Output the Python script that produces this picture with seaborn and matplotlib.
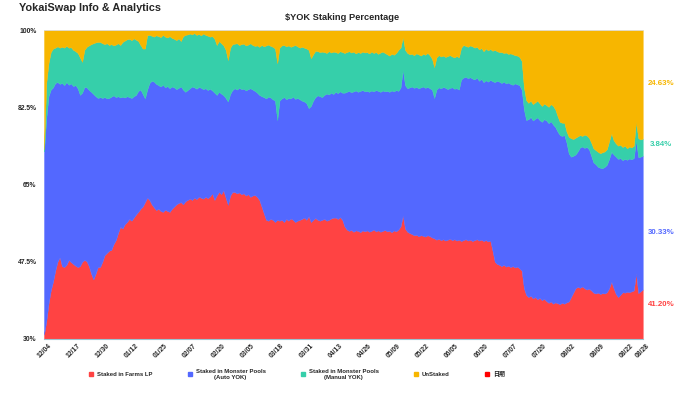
import pandas as pd
import matplotlib
matplotlib.use('Agg')
import matplotlib.pyplot as plt
from matplotlib.lines import Line2D
import seaborn as sns

# Доля (%) кожної категорії по днях
farms_lp = [
    31.0, 34.0, 38.0, 41.0, 43.0, 45.5, 47.5, 48.5,
    46.5, 46.3, 46.8, 47.9, 47.4, 47.0, 46.6, 46.3, 46.5, 47.5, 47.9, 47.6, 46.5, 44.8, 43.5, 44.8, 46.3,
    46.3, 47.5, 49.0, 49.5, 50.0, 50.2, 51.5, 52.4, 54.0, 55.4,
    55.0, 56.0, 56.5, 57.2, 56.8, 57.5, 58.2, 58.8, 59.5, 60.0,
    61.0, 62.0, 61.5, 60.5, 59.8, 59.2, 59.5, 59.0, 58.8, 59.3,
    59.0, 58.8, 59.5, 60.0, 60.5, 60.8, 61.0, 60.5, 61.2, 61.5,
    61.8, 61.5, 62.0, 61.7, 62.2, 62.0, 61.8, 62.2, 61.9, 62.3,
    63.0, 61.5, 62.5, 63.3, 62.8, 63.7, 62.0, 60.4, 62.5, 63.3,
    63.3, 63.0, 63.2, 62.8, 63.0, 62.5, 62.8, 62.2, 62.5, 62.6,
    62.2, 61.5, 60.0, 58.5, 57.0, 56.8, 57.2, 57.0, 56.5, 57.0,
    56.8, 57.0, 56.5, 57.2, 56.8, 57.3, 57.0, 56.5, 56.8, 57.0,
    57.2, 57.5, 57.0, 57.8, 56.5, 57.0, 57.4, 57.0, 56.8, 57.0,
    57.2, 56.8, 57.0, 57.3, 57.5, 57.5, 57.2, 57.6, 57.0,
    55.5, 54.8, 54.5, 54.7, 54.3, 54.6, 54.5, 54.2, 54.6, 54.4,
    54.6, 54.3, 54.5, 54.8, 54.4, 54.6, 54.3, 54.5, 54.7, 54.4,
    54.5, 54.2, 54.6, 54.4, 54.8, 55.5, 58.0, 55.0, 54.3, 54.0,
    53.8, 53.5, 53.6, 53.3, 53.5, 53.4, 53.2, 53.5, 53.3, 53.0,
    52.8, 52.5, 52.7, 52.4, 52.6, 52.3, 52.5, 52.7, 52.4, 52.6,
    52.3, 52.5, 52.2, 52.4, 52.6, 52.3, 52.5, 52.2, 52.4, 52.6,
    52.3, 52.5, 52.2, 52.4, 52.1, 52.3, 50.0, 47.5, 47.0, 46.8,
    46.5, 46.8, 46.4, 46.6, 46.3, 46.5, 46.2, 46.4, 46.0, 45.5,
    41.5, 40.0, 39.5, 39.8, 39.2, 39.5, 39.0, 39.3, 38.8, 39.1,
    38.6, 38.2, 38.5, 38.0, 38.3, 38.1, 37.9, 38.2, 38.0, 38.3,
    38.5, 39.5, 40.5, 41.5, 41.8, 41.6, 41.9, 41.5, 41.2, 41.4,
    41.0, 40.5, 40.3, 40.5, 40.2, 40.4, 40.3, 40.6, 41.5, 43.0,
    41.5, 40.2, 39.5, 40.0, 40.6, 40.5, 40.7, 40.6, 40.8, 41.0,
    44.9, 40.4, 40.8, 41.20,
]
auto_yok = [
    41.5, 46.0, 47.0, 45.5, 44.0, 42.5, 40.7, 39.3,
    41.5, 41.2, 41.4, 39.7, 40.5, 40.3, 40.9, 40.5, 38.8, 38.3, 39.2, 39.4, 39.9, 41.2, 42.0, 40.2, 38.3,
    38.5, 37.1, 35.8, 35.0, 34.6, 34.7, 33.7, 32.4, 31.0, 29.3,
    29.9, 28.7, 28.5, 27.6, 27.8, 27.5, 27.1, 27.4, 27.0, 25.5,
    23.5, 24.5, 26.5, 28.0, 28.5, 28.6, 28.0, 28.2, 28.8, 27.7,
    28.3, 28.0, 27.7, 27.0, 26.1, 26.1, 26.2, 26.0, 24.8, 24.9,
    25.0, 25.7, 25.0, 25.0, 24.9, 24.9, 24.8, 24.6, 24.5, 24.4,
    23.3, 24.3, 22.8, 22.7, 22.8, 21.5, 22.6, 23.4, 23.0, 23.1,
    23.5, 23.5, 23.7, 23.8, 23.7, 23.8, 23.8, 24.6, 24.0, 23.6,
    23.6, 23.8, 25.0, 26.3, 27.5, 28.1, 27.5, 27.3, 27.5, 22.6,
    27.2, 27.5, 28.3, 27.1, 27.8, 27.2, 27.9, 27.9, 27.8, 27.3,
    26.8, 26.3, 26.4, 24.5, 26.3, 27.0, 27.4, 28.2, 28.2, 27.8,
    28.1, 28.8, 28.4, 28.5, 28.0, 28.5, 28.5, 28.5, 28.8,
    30.3, 31.2, 31.7, 31.2, 31.8, 31.7, 31.5, 32.0, 31.8, 31.7,
    31.6, 31.7, 31.8, 31.3, 32.0, 31.6, 31.7, 31.8, 31.4, 31.8,
    31.5, 32.1, 31.5, 32.0, 31.4, 31.5, 33.0, 32.5, 32.5, 33.0,
    33.4, 33.4, 33.5, 33.5, 33.5, 33.8, 33.7, 33.6, 33.5, 33.5,
    31.8, 34.0, 34.3, 34.4, 34.5, 34.6, 34.1, 34.2, 34.6, 34.1,
    34.5, 34.0, 36.6, 36.8, 36.8, 36.8, 36.8, 36.8, 36.4, 36.6,
    36.2, 36.4, 36.0, 36.2, 36.2, 36.4, 38.4, 40.7, 41.5, 41.5,
    41.5, 41.5, 41.5, 41.5, 41.5, 41.1, 41.7, 41.3, 41.5, 41.0,
    40.5, 39.6, 40.3, 40.5, 40.3, 40.4, 41.2, 40.3, 40.4, 40.7,
    40.9, 40.7, 40.8, 40.6, 39.7, 38.9, 38.3, 37.8, 38.2, 36.2,
    33.5, 31.8, 31.0, 30.3, 30.7, 31.8, 31.7, 31.8, 32.3, 31.6,
    30.5, 29.5, 29.3, 28.5, 28.6, 28.3, 28.7, 28.9, 29.3, 29.4,
    30.3, 31.1, 31.3, 31.0, 29.9, 30.3, 29.9, 30.3, 29.9, 30.0,
    30.1, 30.8, 30.5, 30.33,
]
manual_yok = [
    0.5, 8.0, 7.5, 8.5, 8.8, 8.0, 8.1, 8.2,
    8.2, 8.5, 8.2, 8.4, 8.2, 8.2, 7.7, 8.0, 8.5, 7.0, 8.4, 9.2, 10.1, 10.8, 11.5, 12.2, 12.7,
    12.5, 12.4, 12.0, 12.5, 12.0, 11.9, 11.3, 11.9, 12.0, 11.9,
    12.4, 12.9, 12.9, 13.2, 13.1, 13.1, 12.5, 11.3, 10.1, 10.3,
    11.3, 12.3, 10.9, 10.2, 10.2, 11.0, 11.1, 11.2, 11.3, 11.5,
    11.0, 11.8, 11.0, 11.0, 11.1, 11.2, 10.3, 12.1, 12.9, 12.6,
    12.4, 11.8, 12.3, 12.2, 12.0, 11.9, 12.6, 12.1, 12.3, 11.8,
    12.3, 12.2, 11.3, 11.5, 11.4, 11.3, 10.9, 9.4, 10.5, 10.4,
    10.1, 10.5, 9.7, 10.2, 10.2, 10.2, 10.1, 10.2, 10.1, 10.2,
    10.7, 10.9, 11.6, 11.5, 12.0, 11.8, 11.7, 11.9, 11.8, 12.9,
    12.0, 12.0, 11.8, 12.0, 11.9, 11.7, 11.5, 12.2, 11.7, 11.7,
    12.2, 12.2, 12.4, 13.2, 10.8, 10.5, 10.5, 10.0, 10.0, 10.3,
    9.7, 9.2, 9.8, 9.1, 9.6, 9.0, 9.1, 9.1, 9.2,
    9.0, 9.0, 9.0, 9.0, 9.0, 8.4, 9.0, 8.6, 8.7, 8.8,
    8.8, 8.7, 8.8, 8.7, 8.6, 8.4, 8.9, 8.8, 8.7, 8.3,
    8.2, 8.3, 8.3, 8.4, 9.3, 9.0, 7.4, 8.0, 8.0, 7.5,
    7.4, 7.4, 7.6, 7.7, 7.2, 7.4, 7.5, 7.7, 7.5, 7.0,
    7.0, 7.3, 7.3, 7.2, 7.1, 7.0, 7.5, 7.4, 7.0, 7.1,
    7.3, 7.3, 7.2, 7.4, 7.0, 7.1, 7.2, 7.3, 7.2, 7.0,
    7.1, 7.0, 7.0, 7.2, 7.1, 7.0, 6.9, 7.3, 6.7, 6.7,
    7.0, 6.5, 7.0, 6.5, 6.9, 6.9, 6.4, 6.5, 6.4, 6.5,
    5.0, 4.5, 3.7, 3.7, 3.7, 3.7, 3.8, 3.8, 3.6, 3.5,
    3.5, 3.7, 3.9, 4.2, 4.0, 3.5, 3.0, 3.0, 2.8, 2.5,
    3.8, 4.2, 3.8, 3.8, 3.4, 2.8, 2.4, 3.0, 2.6, 2.6,
    3.0, 3.2, 3.2, 3.4, 3.3, 3.6, 3.5, 3.5, 4.0, 4.2,
    3.2, 3.0, 3.0, 3.0, 3.0, 3.0, 2.6, 2.7, 2.7, 2.8,
    4.2, 4.3, 3.9, 3.84,
]
unstaked = [
    27.0, 12.0, 7.5, 5.0, 4.2, 4.0, 3.7, 4.0,
    3.8, 4.0, 3.6, 4.0, 3.9, 4.5, 4.8, 5.2, 6.2, 7.2, 4.5, 3.8, 3.5, 3.2, 3.0, 2.8, 2.7,
    2.7, 3.0, 3.2, 3.0, 3.4, 3.2, 3.5, 3.3, 3.0, 3.4,
    2.7, 2.4, 2.1, 2.0, 2.3, 1.9, 2.2, 2.5, 3.4, 4.2,
    4.2, 1.2, 1.1, 1.3, 1.5, 1.2, 1.4, 1.6, 1.1, 1.5,
    1.7, 1.4, 1.8, 2.0, 2.3, 1.9, 2.5, 1.4, 1.1, 1.0,
    0.8, 1.0, 0.7, 1.1, 0.9, 1.2, 0.8, 1.1, 1.3, 1.5,
    1.4, 2.0, 3.4, 2.5, 3.0, 3.5, 4.5, 6.8, 4.0, 3.2,
    3.1, 3.0, 3.4, 3.2, 3.1, 3.5, 3.3, 3.0, 3.4, 3.6,
    3.5, 3.8, 3.4, 3.7, 3.5, 3.3, 3.6, 3.8, 4.2, 7.5,
    4.0, 3.5, 3.4, 3.7, 3.5, 3.8, 3.6, 3.4, 3.7, 4.0,
    3.8, 4.0, 4.2, 4.5, 6.4, 5.5, 4.7, 4.8, 5.0, 4.9,
    5.0, 5.2, 4.8, 5.1, 4.9, 5.0, 5.2, 4.8, 5.0,
    5.2, 5.0, 4.8, 5.1, 4.9, 5.3, 5.0, 5.2, 4.9, 5.1,
    5.0, 5.3, 4.9, 5.2, 5.0, 5.4, 5.1, 4.9, 5.2, 5.5,
    5.8, 5.4, 5.6, 5.2, 4.5, 4.0, 1.6, 4.5, 5.2, 5.5,
    5.4, 5.7, 5.3, 5.5, 5.8, 5.4, 5.6, 5.2, 5.7, 6.5,
    8.4, 6.2, 5.7, 6.0, 5.8, 6.1, 5.9, 5.7, 6.0, 6.2,
    5.9, 6.2, 4.0, 3.4, 3.6, 3.8, 3.5, 3.7, 4.0, 3.8,
    4.4, 4.1, 4.8, 4.2, 4.6, 4.3, 4.7, 4.5, 4.8, 5.0,
    5.0, 5.2, 5.1, 5.4, 5.3, 5.5, 5.7, 5.8, 6.1, 7.0,
    13.0, 15.9, 16.5, 16.0, 16.8, 16.4, 16.0, 16.6, 17.2, 16.7,
    17.0, 17.4, 16.8, 17.2, 18.0, 19.5, 20.8, 21.0, 21.0, 23.0,
    24.2, 24.5, 24.7, 24.4, 24.1, 23.8, 24.0, 23.7, 23.9, 24.4,
    25.5, 26.8, 27.2, 27.6, 27.9, 27.7, 27.5, 27.0, 25.2, 23.4,
    25.0, 25.7, 26.2, 26.0, 26.5, 26.2, 26.8, 26.4, 26.6, 26.2,
    20.8, 24.5, 24.8, 24.63,
]

tick_labels = ['12/04', '12/17', '12/30', '01/12', '01/25', '02/07', '02/20', '03/05',
               '03/18', '03/31', '04/13', '04/26', '05/09', '05/22', '06/05', '06/20',
               '07/07', '07/20', '08/02', '08/09', '08/22', '08/28']

series_names = ['Staked in Farms LP', 'Staked in Monster Pools\n(Auto YOK)',
                'Staked in Monster Pools\n(Manual YOK)', 'UnStaked']
end_labels = ['41.20%', '30.33%', '3.84%', '24.63%']
end_label_y = [37.9, 54.1, 74.0, 87.8]

colors = sns.color_palette(['#FF4343', '#5368FF', '#36CFAA', '#F7B600'])

sns.set_theme(style='white')
plt.rcParams['font.family'] = ['Liberation Sans', 'Noto Sans CJK SC']

df = pd.DataFrame({
    series_names[0]: farms_lp,
    series_names[1]: auto_yok,
    series_names[2]: manual_yok,
    series_names[3]: unstaked,
})

fig = plt.figure(figsize=(6.9, 3.97), dpi=100)
ax = fig.add_axes([0.0638, 0.1461, 0.8677, 0.7783])

ax.stackplot(df.index, df[series_names].T.values, colors=colors,
             edgecolor='face', linewidth=0.3)

ax.set_xlim(0, len(df) - 1)
ax.set_ylim(30, 100)
ax.set_yticks([30, 47.5, 65, 82.5, 100])
ax.set_yticklabels(['30%', '47.5%', '65%', '82.5%', '100%'], fontsize=4.9, fontweight='bold')

tick_pos = list(range(0, 261, 13)) + [len(df) - 1]
ax.set_xticks(tick_pos)
ax.set_xticklabels(tick_labels, rotation=45, fontsize=4.9, fontweight='bold')
ax.tick_params(axis='y', length=0, pad=5.5)
ax.tick_params(axis='x', length=0, pad=2.5)
ax.grid(False)

for side in ['left', 'right']:
    ax.spines[side].set_visible(False)
ax.spines['top'].set_color('#dddddd')
ax.spines['top'].set_linewidth(0.6)
ax.spines['bottom'].set_color('#9cc3d0')
ax.spines['bottom'].set_linewidth(0.8)

# підписи останніх значень праворуч
for text, y, c in zip(end_labels, end_label_y, colors):
    ax.text(1.031, y, text, transform=ax.get_yaxis_transform(), color=c,
            fontsize=5.7, fontweight='bold', ha='center', va='center')

fig.text(19 / 690, 1 - 8 / 397, 'YokaiSwap Info & Analytics', fontsize=7.8,
         fontweight='bold', ha='left', va='center')
fig.text(342.5 / 690, 1 - 17 / 397, r'\$YOK Staking Percentage', fontsize=6.7,
         fontweight='bold', ha='center', va='center')

handles = [Line2D([], [], marker='s', linestyle='', markersize=3.3, color=c) for c in colors]
handles.append(Line2D([], [], marker='s', linestyle='', markersize=3.3, color='#FF0000'))
leg = fig.legend(handles, series_names + ['日期'], loc='upper left',
                 bbox_to_anchor=(88.7 / 690, 1 - 369 / 397), ncol=5, frameon=False,
                 prop={'size': 4.3, 'weight': 'bold'}, handlelength=0.8,
                 handletextpad=0.57, columnspacing=5.86, borderpad=0, borderaxespad=0)
for t in leg.get_texts():
    t.set_multialignment('center')

fig.savefig('out.png', dpi=100)
